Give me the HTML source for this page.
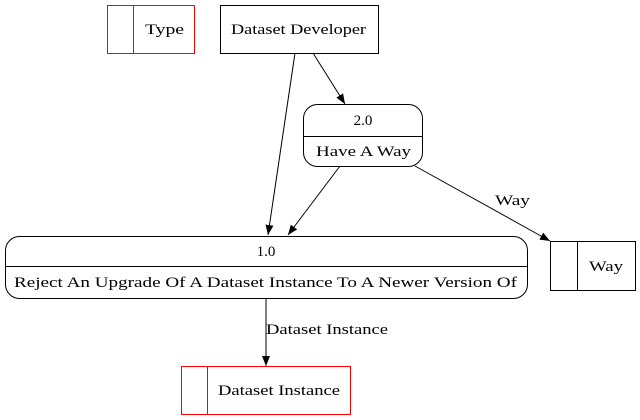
<!DOCTYPE html>
<html><head><style>body{margin:0;background:#fff}svg{display:block}</style></head>
<body>
<svg width="640" height="420" viewBox="0 0 640 420" xmlns="http://www.w3.org/2000/svg">
<defs><marker id="a" markerWidth="10" markerHeight="8" refX="10" refY="4" orient="auto" markerUnits="userSpaceOnUse"><path d="M0,0 L10,4 L0,8 z" fill="#000"/></marker></defs>
<g fill="none" stroke="#000">
<rect x="107.5" y="5.5" width="87" height="48" stroke="#f00"/>
<line x1="133.5" y1="5.5" x2="133.5" y2="53.5" stroke="#f00"/>
<rect x="220.5" y="5.5" width="158" height="48"/>
<rect x="303.5" y="104.5" width="119" height="62" rx="14"/>
<line x1="303.5" y1="136.5" x2="422.5" y2="136.5"/>
<rect x="5.5" y="236.5" width="522" height="62" rx="14"/>
<line x1="5.5" y1="266.5" x2="527.5" y2="266.5"/>
<rect x="550.5" y="241.5" width="85" height="49"/>
<line x1="577.5" y1="241.5" x2="577.5" y2="290.5"/>
<rect x="181.5" y="366.5" width="169" height="48" stroke="#f00"/>
<line x1="207.5" y1="366.5" x2="207.5" y2="414.5" stroke="#f00"/>
<line x1="295" y1="53" x2="268" y2="235" marker-end="url(#a)"/>
<line x1="313" y1="53" x2="345" y2="104" marker-end="url(#a)"/>
<line x1="340" y1="166" x2="288" y2="235" marker-end="url(#a)"/>
<line x1="415" y1="166" x2="550" y2="241" marker-end="url(#a)"/>
<line x1="266" y1="298" x2="266" y2="366" marker-end="url(#a)"/>
</g>
<g font-family="Liberation Serif, DejaVu Serif, serif" font-size="15" fill="#000" lengthAdjust="spacingAndGlyphs">
<text x="145" y="34" textLength="39" lengthAdjust="spacingAndGlyphs">Type</text>
<text x="231" y="34" textLength="135" lengthAdjust="spacingAndGlyphs">Dataset Developer</text>
<text x="363" y="125" text-anchor="middle">2.0</text>
<text x="316" y="156" textLength="95" lengthAdjust="spacingAndGlyphs">Have A Way</text>
<text x="266" y="256" text-anchor="middle">1.0</text>
<text x="14" y="287" textLength="503" lengthAdjust="spacingAndGlyphs">Reject An Upgrade Of A Dataset Instance To A Newer Version Of</text>
<text x="589" y="271" textLength="34" lengthAdjust="spacingAndGlyphs">Way</text>
<text x="218" y="395" textLength="122" lengthAdjust="spacingAndGlyphs">Dataset Instance</text>
<text x="495" y="205" textLength="35" lengthAdjust="spacingAndGlyphs">Way</text>
<text x="266" y="334" textLength="122" lengthAdjust="spacingAndGlyphs">Dataset Instance</text>
</g>
</svg>
</body></html>
